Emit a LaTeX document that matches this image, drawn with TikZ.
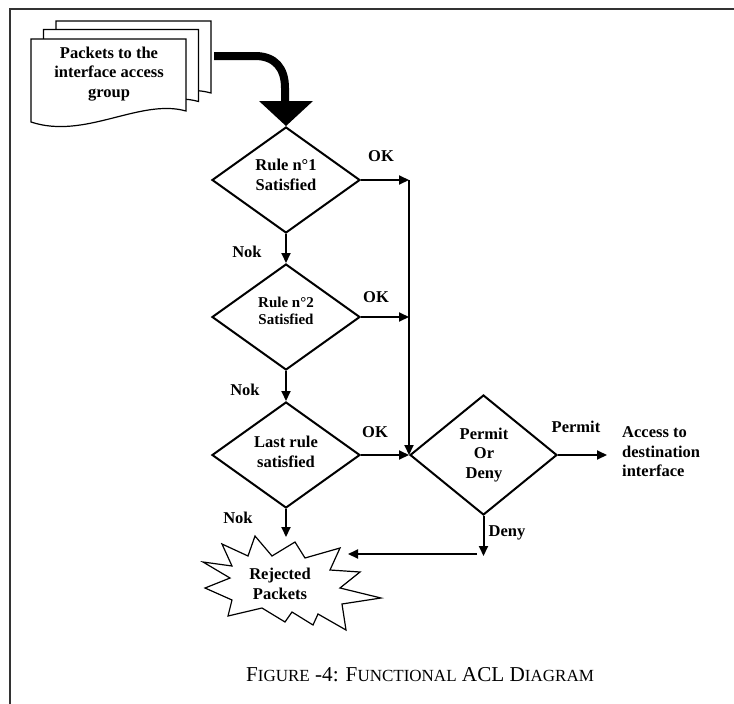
\documentclass[tikz,border=0pt]{standalone}
\usepackage{fontspec}
\setmainfont{Liberation Serif}
\usetikzlibrary{arrows.meta,shapes.geometric}
\newcommand\smcap[1]{{\fontsize{17}{20}\selectfont #1}}
\begin{document}
\begin{tikzpicture}[x=1pt,y=-1pt,
  dia/.style={draw,line width=2pt,diamond,minimum width=148pt,minimum height=106pt,inner sep=0pt},
  txt/.style={font=\bfseries\fontsize{16.5}{19.5}\selectfont,align=center,inner sep=0pt},
  lab/.style={font=\bfseries\fontsize{16.5}{19.5}\selectfont,inner sep=0pt},
  arr/.style={line width=2pt,-{Triangle[length=10pt,width=9pt]}},
  docshape/.style={draw,line width=1.2pt,fill=white},
  burst/.style={draw,line width=1.2pt,fill=white}]
\useasboundingbox (0,0) rectangle (734,704);
% frame
\draw[line width=2pt,black!80] (10,704) -- (10,9) -- (734,9);
% document stack
\foreach \dx/\dy in {25/-18,12.5/-9.5,0/0}{
  \draw[docshape,shift={(\dx,\dy)}] (31,39) -- (186,39) -- (186,111)
     .. controls (140,98) and (85,140) .. (31,122) -- cycle;
}
\node[txt] (pk) at (109,74) {Packets to the\\interface access\\group};
% diamonds
\node[dia] (d1) at (286,180) {};
\node[dia] (d2) at (286,317) {};
\node[dia] (d3) at (286,455) {};
\node[dia,minimum width=147pt,minimum height=120pt] (d4) at (483.5,455) {};
\node[txt] (t1) at (286,175) {Rule n°1\\Satisfied};
\node[txt,font=\bfseries\fontsize{15}{17}\selectfont] (t2) at (286,311) {Rule n°2\\Satisfied};
\node[txt] (t3) at (286,452) {Last rule\\satisfied};
\node[txt] (t4) at (484,455) {Permit\\Or\\Deny};
% thick arrow
\coordinate (ts) at (214,56);
\draw[line width=8pt] (ts) -- (255,56) .. controls (275,56) and (285,68) .. (285,88) -- (285,104);
\fill (d1.north) -- ++(-27,-25) -- ++(54,0) -- cycle;
% OK connectors
\draw[arr] (d1.east) -- (d1.east -| d4.west);
\draw[arr] (d1.east -| d4.west) -- (d4.west);
\draw[arr] (d2.east) -- (d2.east -| d4.west);
\draw[arr] (d3.east) -- (d4.west);
\node[lab] (ok1) at (381,156) {OK};
\node[lab] (ok2) at (376,297) {OK};
\node[lab] (ok3) at (375,432) {OK};
% Nok connectors
\draw[arr] (d1.south) -- (d2.north);
\draw[arr] (d2.south) -- (d3.north);
\coordinate (sb) at (286,537);
\draw[arr] (d3.south) -- (sb);
\node[lab] (n1) at (247,252) {Nok};
\node[lab] (n2) at (245,390) {Nok};
\node[lab] (n3) at (238,518) {Nok};
% starburst
\draw[burst] (203,562) -- (232,566) -- (222,544) -- (248,556) -- (255,536) -- (272,556)
  -- (295,542) -- (305,558) -- (340,548) -- (330,570) -- (360,572) -- (340,588)
  -- (381,598) -- (342,604) -- (346,630) -- (318,614) -- (313,625) -- (292,612)
  -- (285,622) -- (262,608) -- (228,616) -- (232,600) -- (205,588) -- (230,578) -- cycle;
\node[txt] (rej) at (280,584) {Rejected\\Packets};
% permit / deny
\node[txt,align=left,anchor=west] (acc) at (622,452) {Access to\\destination\\interface};
\coordinate (pa) at (607,455);
\draw[arr] (d4.east) -- (pa);
\node[lab] (pl) at (576,427) {Permit};
\coordinate (dn) at (483.5,556);
\draw[arr] (d4.south) -- (dn);
\node[lab] (dl) at (507,533) {Deny};
\coordinate (hr) at (477,554);
\coordinate (hl) at (348,554);
\draw[arr] (hr) -- (hl);
% caption
\node[inner sep=0pt,font=\fontsize{21.2}{24}\selectfont] (cap) at (420,675)
  {F\smcap{IGURE} -4: F\smcap{UNCTIONAL} ACL D\smcap{IAGRAM}};
\end{tikzpicture}
\end{document}
